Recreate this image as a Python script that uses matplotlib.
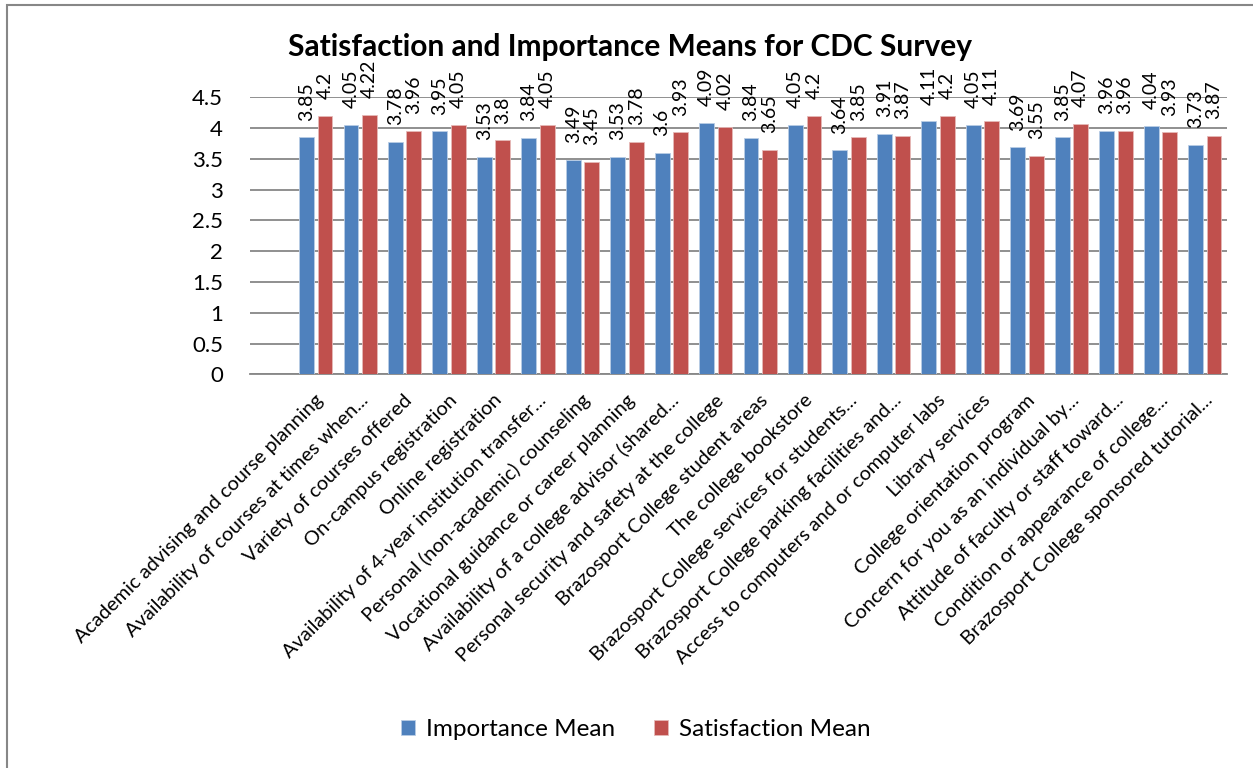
import matplotlib
matplotlib.use("Agg")
import matplotlib.pyplot as plt
import matplotlib.transforms as mtransforms
from matplotlib.patches import Rectangle
import numpy as np

categories = [
    "Academic advising and course planning",
    "Availability of courses at times when...",
    "Variety of courses offered",
    "On-campus registration",
    "Online registration",
    "Availability of 4-year institution transfer...",
    "Personal (non-academic) counseling",
    "Vocational guidance or career planning",
    "Availability of a college advisor (shared...",
    "Personal security and safety at the college",
    "Brazosport College student areas",
    "The college bookstore",
    "Brazosport College services for students...",
    "Brazosport College parking facilities and...",
    "Access to computers and or computer labs",
    "Library services",
    "College orientation program",
    "Concern for you as an individual by...",
    "Attitude of faculty or staff toward...",
    "Condition or appearance of college...",
    "Brazosport College sponsored tutorial...",
]
importance = [3.85, 4.05, 3.78, 3.95, 3.53, 3.84, 3.49, 3.53, 3.6, 4.09, 3.84,
              4.05, 3.64, 3.91, 4.11, 4.05, 3.69, 3.85, 3.96, 4.04, 3.73]
satisfaction = [4.2, 4.22, 3.96, 4.05, 3.8, 4.05, 3.45, 3.78, 3.93, 4.02, 3.65,
                4.2, 3.85, 3.87, 4.2, 4.11, 3.55, 4.07, 3.96, 3.93, 3.87]
series_names = ["Importance Mean", "Satisfaction Mean"]
title = "Satisfaction and Importance Means for CDC Survey"
yticks = [0, 0.5, 1, 1.5, 2, 2.5, 3, 3.5, 4, 4.5]

FONT = ["Lato", "DejaVu Sans"]
plt.rcParams['font.family'] = FONT

W, H = 1253, 768
fig = plt.figure(figsize=(W / 100, H / 100), dpi=100)
fig.patch.set_facecolor("white")

# outer chart border (only left/top visible in reference)
fig.patches.append(Rectangle((7 / W, -0.1), 1.2, 1 - 5 / H + 0.1, transform=fig.transFigure,
                             fill=False, edgecolor="#878787", linewidth=1.5))

left, right = 250 / W, 1227 / W
bottom, top = 1 - 374.5 / H, 1 - 97.3 / H
ax = fig.add_axes([left, bottom, right - left, top - bottom])

x = np.arange(len(categories))
bw = 0.335
off = 0.208
blue = "#4F81BD"
red = "#C0504D"
b1 = ax.bar(x - off, importance, bw, color=blue, edgecolor="#b9cde5", linewidth=0.6,
            label=series_names[0], zorder=3)
b2 = ax.bar(x + off, satisfaction, bw, color=red, edgecolor="#e6b9b8", linewidth=0.6,
            label=series_names[1], zorder=3)

for bars, vals in ((b1, importance), (b2, satisfaction)):
    for rect, v in zip(bars, vals):
        ax.annotate(f"{v:g}", (rect.get_x() + rect.get_width() / 2, v),
                    xytext=(0, 12), textcoords="offset points",
                    rotation=90, ha="center", va="bottom", fontsize=14,
                    annotation_clip=False)

ax.set_xlim(-1.479, 20.5)
ax.set_ylim(0, 4.5)
ax.set_yticks(yticks)
ax.set_yticklabels([f"{t:g}" for t in yticks], fontsize=16)
ax.tick_params(axis="y", length=0, pad=19.5)
ax.grid(axis="y", color="#878787", linewidth=1.3, zorder=0)
ax.set_axisbelow(True)
for s in ("left", "right", "top"):
    ax.spines[s].set_visible(False)
ax.spines["bottom"].set_color("#878787")
ax.spines["bottom"].set_linewidth(1.3)

ax.set_xticks(x)
ax.set_xticklabels(categories, rotation=45, ha="right", va="center",
                   rotation_mode="anchor", fontsize=14.4)
ax.tick_params(axis="x", length=0, pad=0)
offset = mtransforms.ScaledTranslation(5 / 100, -23 / 100, fig.dpi_scale_trans)
for lab in ax.get_xticklabels():
    lab.set_transform(lab.get_transform() + offset)

fig.text(630 / W, 1 - 47 / H, title, ha="center", va="center",
         fontsize=21.5, fontweight="bold")

leg = fig.legend(handles=[b1, b2], labels=series_names, loc="center",
                 bbox_to_anchor=(636 / W, 1 - 730 / H), ncol=2, frameon=False,
                 fontsize=17.5, handlelength=0.57, handleheight=0.57,
                 handletextpad=0.45, columnspacing=1.6)

fig.savefig("out.png", dpi=100)
